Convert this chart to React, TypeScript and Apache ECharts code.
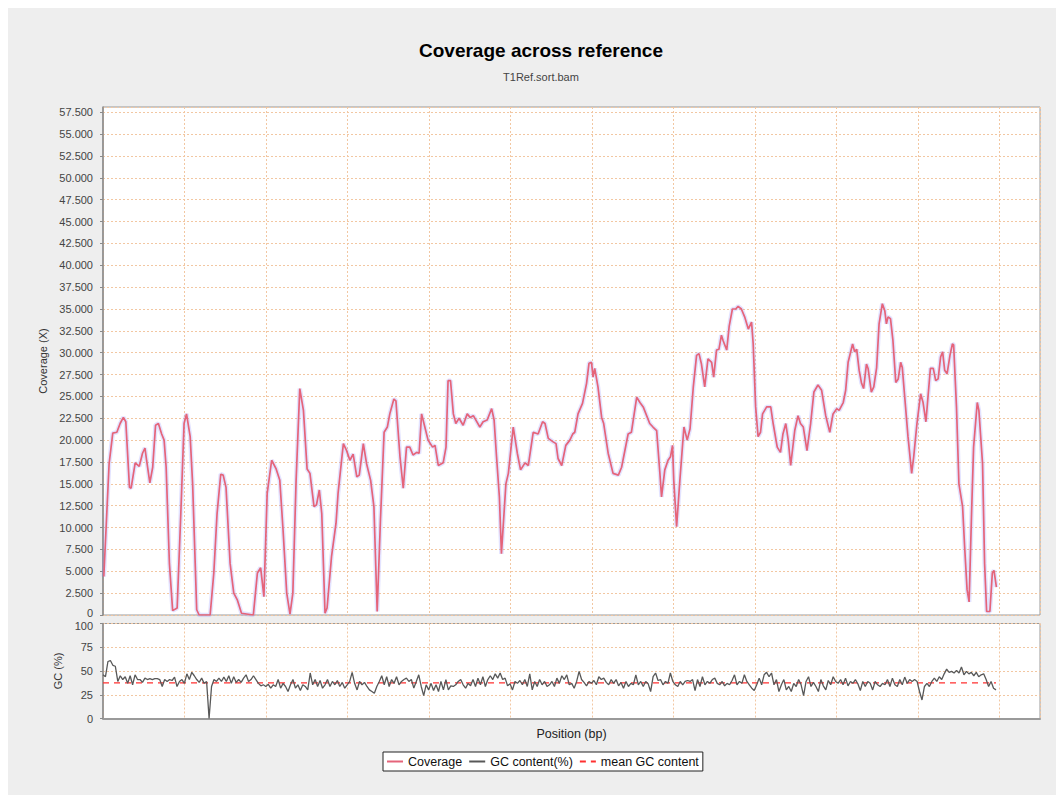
import React, { useEffect, useRef } from "react";
import * as echarts from "echarts";

// Titles and legend labels
const chartTitle = "Coverage across reference";
const chartSubtitle = "T1Ref.sort.bam";
const coverageName = "Coverage";
const gcName = "GC content(%)";
const meanGcName = "mean GC content";
const xAxisName = "Position (bp)";
const coverageAxisName = "Coverage (X)";
const gcAxisName = "GC (%)";

// Window positions along the reference (kb) and mean coverage per window
const coveragePosKb = [
  0.2, 1.5, 2.4, 3.4, 4.2, 5.0, 5.6, 6.5, 6.9, 7.9,
  8.9, 9.7, 10.3, 10.7, 11.5, 12.2, 12.9, 13.6, 14.4, 15.0,
  15.5, 16.3, 17.1, 18.2, 19.1, 19.9, 20.5, 21.4, 22.0, 23.0,
  23.6, 26.3, 27.2, 28.0, 28.9, 29.5, 30.2, 31.2, 32.1, 33.0,
  34.0, 36.9, 37.9, 38.7, 39.5, 40.3, 41.4, 42.5, 43.4, 44.2,
  45.1, 45.9, 46.6, 47.4, 48.3, 49.2, 50.1, 50.8, 51.8, 52.4,
  53.1, 53.7, 54.5, 55.0, 56.1, 57.2, 57.7, 59.0, 59.8, 60.6,
  61.4, 62.3, 62.9, 63.9, 64.7, 65.7, 66.5, 67.3, 68.1, 69.0,
  69.8, 70.4, 71.4, 71.9, 72.9, 73.7, 74.5, 75.3, 76.1, 77.0,
  77.6, 78.2, 79.0, 79.8, 80.9, 81.5, 82.3, 83.5, 84.2, 84.7,
  85.3, 86.0, 86.6, 87.4, 88.4, 89.4, 90.1, 90.9, 92.5, 93.3,
  94.3, 95.4, 96.0, 96.6, 97.3, 97.8, 98.9, 99.5, 100.7, 101.7,
  102.5, 103.6, 104.4, 105.6, 106.8, 107.9, 108.5, 109.3, 110.5, 111.2,
  111.7, 112.6, 113.6, 114.6, 115.3, 115.8, 116.6, 117.7, 118.7, 119.3,
  119.9, 120.3, 120.7, 121.5, 122.4, 122.9, 124.0, 125.2, 126.5, 127.3,
  128.9, 129.7, 131.0, 131.8, 132.6, 134.2, 135.0, 135.9, 136.7, 137.1,
  137.9, 138.7, 139.3, 139.8, 140.1, 140.8, 141.6, 142.6, 143.4, 144.1,
  144.9, 145.7, 146.3, 146.9, 147.7, 148.5, 149.4, 149.9, 150.6, 151.2,
  151.8, 152.2, 153.1, 153.7, 154.5, 155.3, 155.9, 156.7, 157.5, 158.4,
  159.2, 159.6, 160.2, 160.8, 161.4, 161.9, 162.9, 163.9, 164.5, 165.5,
  166.3, 166.9, 167.6, 168.2, 168.8, 169.8, 170.6, 171.2, 171.9, 172.8,
  173.7, 174.5, 175.5, 176.4, 177.4, 178.4, 179.2, 180.1, 180.7, 181.7,
  182.3, 182.9, 184.0, 184.5, 185.0, 185.6, 186.2, 186.7, 187.4, 187.8,
  188.6, 189.2, 189.9, 190.5, 191.3, 191.9, 192.3, 192.7, 193.3, 193.9,
  194.6, 195.2, 195.8, 196.2, 196.8, 197.6, 198.5, 199.0, 199.8, 200.7,
  201.3, 202.0, 202.5, 203.1, 203.8, 204.4, 205.0, 205.6, 206.1, 206.6,
  207.2, 207.9, 208.5, 208.8, 209.5, 210.1, 211.0, 211.5, 212.1, 212.6,
  213.2, 213.7, 214.6, 215.0, 215.9, 216.4, 216.9, 217.7, 218.3, 218.7,
  219.3,
];

const coverage = [
  4.4, 17.3, 20.8, 20.9, 21.9, 22.6, 22.1, 14.6, 14.5, 17.4,
  17.0, 18.5, 19.1, 17.7, 15.1, 16.9, 21.7, 21.9, 20.7, 20.0,
  16.9, 5.9, 0.5, 0.8, 11.6, 21.9, 23.0, 20.4, 15.0, 0.6,
  0, 0, 4.8, 11.6, 16.1, 16.0, 14.6, 5.9, 2.5, 1.7,
  0.2, 0, 4.8, 5.4, 2.1, 13.9, 17.7, 16.7, 15.4, 9.7,
  2.5, 0.1, 2.5, 15.4, 25.9, 23.4, 16.7, 16.2, 12.4, 12.6,
  14.3, 11.6, 0.2, 0.8, 6.7, 10.5, 13.9, 19.6, 18.8, 17.7,
  18.4, 15.8, 16.0, 19.6, 17.3, 15.4, 12.4, 0.4, 10.8, 20.9,
  21.5, 23.0, 24.7, 24.5, 18.1, 14.5, 19.2, 19.2, 18.3, 18.6,
  18.5, 23.0, 21.5, 20.0, 19.2, 19.4, 17.1, 17.4, 19.2, 26.8,
  26.8, 23.0, 21.9, 22.5, 21.7, 23.0, 22.6, 22.8, 21.5, 22.1,
  22.3, 23.6, 22.3, 18.1, 13.5, 7.0, 15.0, 16.2, 21.5, 18.5,
  16.6, 17.4, 17.1, 20.9, 20.7, 22.1, 21.9, 20.2, 19.8, 19.6,
  17.9, 17.1, 19.4, 20.0, 20.7, 20.9, 23.0, 24.2, 26.5, 28.8,
  28.9, 27.2, 28.2, 26.1, 22.6, 21.9, 18.5, 16.2, 16.0, 16.9,
  20.7, 20.9, 24.9, 24.3, 23.8, 21.9, 21.5, 21.1, 16.2, 13.5,
  16.6, 17.7, 18.1, 19.4, 15.4, 10.1, 15.4, 21.5, 20.0, 21.3,
  26.1, 29.7, 29.9, 28.7, 26.1, 29.3, 28.9, 27.2, 30.3, 30.4,
  32.0, 31.4, 30.3, 33.0, 35.0, 35.0, 35.3, 35.0, 34.1, 32.7,
  33.5, 31.0, 23.8, 20.4, 20.9, 23.0, 23.8, 23.8, 21.9, 19.2,
  18.6, 20.7, 21.9, 20.0, 17.1, 21.1, 22.8, 21.9, 21.5, 18.8,
  21.9, 25.5, 26.3, 25.7, 22.8, 20.9, 23.0, 23.6, 23.4, 24.3,
  25.7, 28.9, 31.0, 30.1, 30.4, 28.0, 26.5, 25.9, 28.7, 28.2,
  25.5, 26.1, 28.3, 33.3, 35.6, 34.8, 33.3, 34.1, 33.9, 31.4,
  26.6, 27.0, 28.9, 28.3, 24.9, 20.4, 16.2, 18.1, 21.9, 25.3,
  24.3, 22.1, 24.9, 28.2, 28.2, 26.8, 27.0, 29.5, 30.1, 28.0,
  27.6, 29.7, 31.0, 30.9, 23.8, 15.0, 12.4, 7.8, 2.9, 1.5,
  11.6, 19.2, 24.3, 23.4, 17.3, 5.9, 0.4, 0.4, 4.8, 5.1,
  3.2,
];

// GC content (%) of consecutive, evenly spaced windows across the reference
const gcContent = [
  46, 44, 60, 61, 56, 55, 39, 45, 41, 44,
  37, 45, 35.5, 46, 41, 41, 38, 42.5, 41, 42,
  41, 42, 42, 41, 33.7, 41, 39, 41, 40, 43.6,
  33.7, 39, 41, 37, 47, 41, 48.6, 45, 41, 38,
  42.5, 37, 39, 0, 33.7, 41, 39, 42.5, 39, 43.6,
  39, 45, 37, 44, 38, 41, 38, 42.5, 46, 39,
  41, 45, 41, 37, 34.4, 35.5, 33.7, 36, 31.9, 35.5,
  33.7, 41, 31.9, 37, 33.7, 28.4, 35.5, 41, 31.9, 35.5,
  29.4, 35.5, 33.7, 30.1, 47.9, 35.5, 41, 33.7, 40, 31.9,
  35.5, 41, 33.7, 39, 35.5, 40, 33.7, 38, 31.9, 35.5,
  39, 48.6, 37, 30.1, 39, 35.5, 38, 33.7, 30.1, 28.4,
  26.6, 33.7, 39, 45, 35.5, 44, 33.7, 41, 37, 44,
  35.5, 39, 41, 42.5, 39, 41, 32, 39, 46, 33.7,
  24, 35.5, 30.1, 37, 29.4, 35.5, 28.4, 39, 30.1, 41,
  30.1, 34.4, 33.7, 35.5, 39, 41, 35.5, 31.9, 37, 34.4,
  41, 33.7, 42.5, 35.5, 44, 33.7, 41, 45, 41, 47,
  42.5, 47.9, 41, 42.5, 34.4, 36.5, 30.1, 39, 37, 40,
  35.5, 41, 33.7, 47, 30.1, 39, 33.7, 41, 35.5, 39,
  33.7,
  35.5, 39, 33.7, 42.5, 37, 45, 41, 46, 35.5, 37,
  31.9, 39, 49.6, 41, 38, 34.4, 39, 37, 40, 35.5,
  44, 41, 42.5, 38, 35.5, 41, 37, 41, 34.4, 38,
  31.9, 39, 33.7, 37, 35.5, 46, 35.5, 39, 33.7, 39,
  36.5, 28.4, 44, 47.9, 40, 41, 35.5, 39, 37, 47.9,
  39, 35.5, 33.7, 39, 35.5, 39, 40, 39, 41, 29.4,
  41, 33.7, 44, 35.5, 39, 37, 41, 42.5, 37, 35.5,
  39, 34.4, 37, 35.5, 40, 46, 35.5, 39, 37, 46,
  39, 35.5, 31.9, 29.4, 35.5, 42.5, 35.5, 46, 48.6, 44,
  47.9, 35.5, 41, 28.4, 35.5, 41, 30.1, 33.7, 28.4, 37,
  33.7, 41, 35.5, 24, 39, 44, 33.7, 38, 33.7, 28.4,
  41, 34.4, 30.1, 40, 35.5, 44, 39, 37, 41, 35.5,
  42.5, 34.4, 39, 37, 41, 36.5, 29.4, 39, 33.7, 39,
  37, 30.1, 39, 35.5, 33.7, 37, 35.5, 41, 33.7, 42.5,
  35.5, 33.7, 41, 35.5, 43.6, 37, 41, 39, 41, 39,
  28.4, 19.5, 33.7, 37, 33.7, 39, 42.5, 39, 44, 41,
  47, 52, 48.6, 49.6, 47.9, 50.7, 47.9, 54.2, 46, 49.6,
  47, 48.6, 45, 48.6, 44, 46, 47, 41, 33.7, 39,
  31.9, 30.1,
];
const gcSpanKb = 219.2;
const meanGc = 37.6;

// Axis ranges (kb on x)
const xMax = 230;
const xStep = 20;
const coverageMax = 58.1;
const coverageStep = 2.5;
const gcMax = 100;
const gcStep = 25;

const FONT = '"Liberation Sans", Arial, Helvetica, sans-serif';
const GRID_COLOR = "#f2c7a2";
const COVERAGE_COLOR = "#e5647a";
const GC_COLOR = "#585858";
const TICK_TEXT = { fontSize: 11, color: "#444", fontFamily: FONT };

export default function App() {
  const ref = useRef<HTMLDivElement>(null);

  useEffect(() => {
    const el = ref.current;
    if (!el) return;
    const chart = echarts.init(el, null, { renderer: "svg" });

    const coverageData = coveragePosKb.map((p, i) => [p, coverage[i]]);
    const gcWindow = gcSpanKb / (gcContent.length - 1);
    const gcData = gcContent.map((v, i) => [i * gcWindow, v]);
    const meanData = [
      [0, meanGc],
      [gcSpanKb, meanGc],
    ];

    const gridLine = {
      show: true,
      lineStyle: { color: GRID_COLOR, type: [2, 2] as number[], width: 1 },
    };

    const xAxisBase = {
      type: "value" as const,
      min: 0,
      max: xMax,
      interval: xStep,
      splitLine: gridLine,
      axisTick: { show: false },
      axisLabel: { show: false },
    };

    chart.setOption({
      animation: false,
      backgroundColor: "#eeeeee",
      textStyle: { fontFamily: FONT },
      graphic: [
        {
          type: "text",
          x: 533,
          y: 42,
          style: {
            text: chartTitle,
            fill: "#000",
            font: `bold 19px ${FONT}`,
            align: "center",
            verticalAlign: "middle",
            textAlign: "center",
            textVerticalAlign: "middle",
          },
        },
        {
          type: "text",
          x: 533,
          y: 69,
          style: {
            text: chartSubtitle,
            fill: "#444",
            font: `11px ${FONT}`,
            align: "center",
            verticalAlign: "middle",
            textAlign: "center",
            textVerticalAlign: "middle",
          },
        },
      ],
      legend: {
        data: [coverageName, gcName, meanGcName],
        left: 375,
        top: 744,
        padding: [3, 4, 3, 3],
        itemGap: 6,
        itemWidth: 16,
        itemHeight: 10,
        borderColor: "#222",
        borderWidth: 1,
        borderRadius: 0,
        backgroundColor: "#ffffff",
        itemStyle: { opacity: 0 },
        textStyle: { fontSize: 12.5, color: "#111", fontFamily: FONT },
      },
      grid: [
        {
          left: 95,
          top: 99,
          width: 937,
          height: 508,
          show: true,
          backgroundColor: "#ffffff",
          borderColor: "#9a9a9a",
          borderWidth: 1,
        },
        {
          left: 95,
          top: 615.5,
          width: 937,
          height: 95,
          show: true,
          backgroundColor: "#ffffff",
          borderColor: "#9a9a9a",
          borderWidth: 1,
        },
      ],
      xAxis: [
        { ...xAxisBase, gridIndex: 0, axisLine: { show: false } },
        {
          ...xAxisBase,
          gridIndex: 1,
          offset: 4,
          axisLine: { show: true, lineStyle: { color: "#9a9a9a", width: 2 } },
          name: xAxisName,
          nameLocation: "middle",
          nameGap: 5,
          nameTextStyle: { fontSize: 12.5, color: "#222", fontFamily: FONT },
        },
      ],
      yAxis: [
        {
          type: "value",
          gridIndex: 0,
          min: 0,
          max: coverageMax,
          interval: coverageStep,
          offset: 4,
          name: coverageAxisName,
          nameLocation: "middle",
          nameGap: 44,
          nameTextStyle: { fontSize: 11, color: "#333", fontFamily: FONT },
          axisLine: { show: true, lineStyle: { color: "#8a8a8a", width: 1.5 } },
          axisTick: { show: true, length: 3, lineStyle: { color: "#8a8a8a" } },
          axisLabel: {
            ...TICK_TEXT,
            margin: 6,
            showMaxLabel: false,
            // the zero label sits a little higher so it clears the GC panel's top label
            rich: { low: { ...TICK_TEXT, padding: [0, 0, 5, 0] } },
            formatter: (v: number) => {
              const k = v / coverageStep;
              if (Math.abs(k - Math.round(k)) > 1e-6) return "";
              return v === 0 ? "{low|0}" : v.toFixed(3);
            },
          },
          splitLine: gridLine,
        },
        {
          type: "value",
          gridIndex: 1,
          min: 0,
          max: gcMax,
          interval: gcStep,
          offset: 4,
          name: gcAxisName,
          nameLocation: "middle",
          nameGap: 28,
          nameTextStyle: { fontSize: 11, color: "#333", fontFamily: FONT },
          axisLine: { show: true, lineStyle: { color: "#8a8a8a", width: 1.5 } },
          axisTick: { show: true, length: 3, lineStyle: { color: "#8a8a8a" } },
          axisLabel: {
            ...TICK_TEXT,
            margin: 6,
            rich: { high: { ...TICK_TEXT, padding: [5, 0, 0, 0] } },
            formatter: (v: number) => (v === gcMax ? `{high|${v}}` : `${v}`),
          },
          splitLine: gridLine,
        },
      ],
      series: [
        {
          // soft spread band drawn beneath the coverage line
          name: "coverage spread",
          type: "line",
          xAxisIndex: 0,
          yAxisIndex: 0,
          data: coverageData,
          symbol: "none",
          silent: true,
          lineStyle: { color: "rgba(140,140,255,0.24)", width: 4.5 },
          z: 1,
        },
        {
          name: coverageName,
          type: "line",
          xAxisIndex: 0,
          yAxisIndex: 0,
          data: coverageData,
          symbol: "none",
          itemStyle: { color: COVERAGE_COLOR },
          lineStyle: { color: COVERAGE_COLOR, width: 1.7 },
          z: 3,
        },
        {
          name: gcName,
          type: "line",
          xAxisIndex: 1,
          yAxisIndex: 1,
          data: gcData,
          symbol: "none",
          itemStyle: { color: GC_COLOR },
          lineStyle: { color: GC_COLOR, width: 1.3 },
          z: 3,
        },
        {
          name: meanGcName,
          type: "line",
          xAxisIndex: 1,
          yAxisIndex: 1,
          data: meanData,
          symbol: "none",
          itemStyle: { color: "#ff3030" },
          lineStyle: { color: "#ff3030", width: 1.2, type: [6, 5] },
          z: 2,
        },
      ],
    });

    return () => chart.dispose();
  }, []);

  return (
    <div
      ref={ref}
      style={{ width: 1056, height: 787, background: "#eeeeee" }}
    />
  );
}
